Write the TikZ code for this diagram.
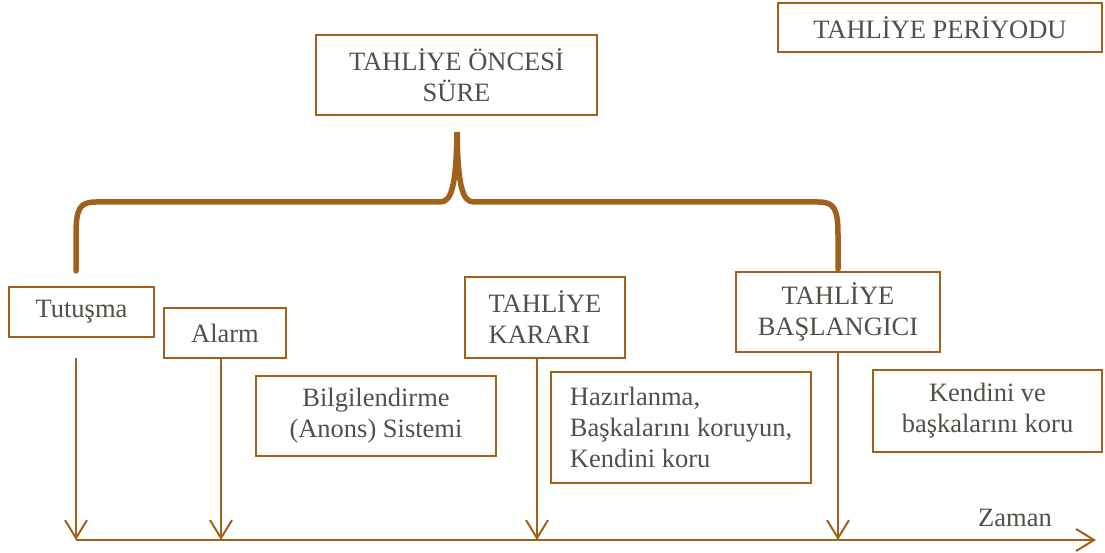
\documentclass[tikz,border=0pt]{standalone}
\usepackage{fontspec}
\setmainfont{Liberation Serif}
\usepackage[]{xcolor}
\usepackage{tikz}
\usetikzlibrary{arrows.meta}
\definecolor{kahve}{RGB}{160,98,26}
\definecolor{yazi}{RGB}{80,80,72}

\begin{document}
\begin{tikzpicture}[x=1pt,y=-1pt,
        kutu/.style={draw=kahve, line width=2pt, text=yazi, inner sep=0pt,
                font=\fontsize{26.5}{31}\selectfont},
        ok/.style={draw=kahve, line width=2pt, -{Straight Barb[length=18pt,width=22pt,line width=2pt]}}]
        \useasboundingbox (0,0) rectangle (1105,553);
        \node[kutu, minimum width=281pt, minimum height=80pt, align=center] (once) at (456.5,75) {TAHLİYE ÖNCESİ\\SÜRE};
        \node[kutu, minimum width=324pt, minimum height=49pt] (periyot) at (940,27.5) {TAHLİYE PERİYODU};
        \node[kutu, minimum width=145pt, minimum height=50pt] (tutusma) at (81.5,312) {Tutuşma};
        \node[kutu, minimum width=122pt, minimum height=50pt] (alarm) at (225,333) {Alarm};
        \node[kutu, minimum width=240pt, minimum height=80pt, align=center] (anons) at (376,416) {Bilgilendirme\\(Anons) Sistemi};
        \node[kutu, minimum width=160pt, minimum height=81pt, align=left] (karar) at (545,317.5) {TAHLİYE\\KARARI};
        \node[kutu, minimum width=204pt, minimum height=80pt, align=center] (baslangic) at (838,312) {TAHLİYE\\BAŞLANGICI};
        \node[kutu, minimum width=260pt, minimum height=111pt, align=left] (hazir) at (681,427.5) {Hazırlanma,\\Başkalarını koruyun,\\Kendini koru};
        \node[kutu, minimum width=229pt, minimum height=82pt, align=center] (koru) at (987.5,411) {Kendini ve\\başkalarını koru};
        \node[text=yazi, font=\fontsize{26.5}{31}\selectfont] (zaman) at (1015,518) {Zaman};

        \coordinate (t1) at (76,540);
        \coordinate (t2) at (221,540);
        \coordinate (t3) at (537,540);
        \coordinate (t4) at (838,540);
        \coordinate (son) at (1096,540);
        \coordinate (b1) at (76,358);
        \draw[ok] (t1) -- (son);
        \draw[ok] (b1) -- (t1);
        \draw[ok] (alarm.south -| t2) -- (t2);
        \draw[ok] (karar.south -| t3) -- (t3);
        \draw[ok] (baslangic.south -| t4) -- (t4);

        \draw[kahve, line width=5.5pt, line cap=round]
                (76,271) -- (76,235) .. controls (76,208) and (80,202) .. (96,202)
                -- (440,202) .. controls (452,202) and (456,185) .. (457,132)
                .. controls (458,185) and (462,202) .. (474,202)
                -- (818,202) .. controls (834,202) and (838,208) .. (838,235) -- (838,269);
\end{tikzpicture}
\end{document}
